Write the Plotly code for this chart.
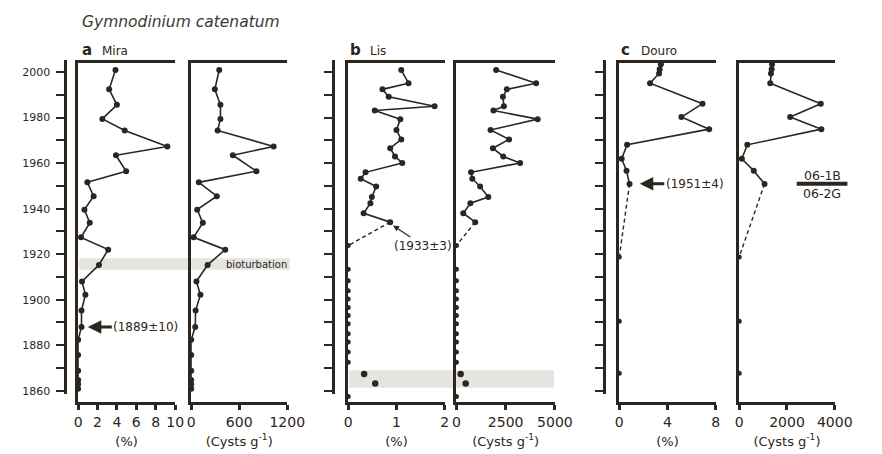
import plotly.graph_objects as go

W, H = 882, 454
INK = "#2b2620"
BAND = "#e6e4e0"
FONT = "DejaVu Sans"

# ---------------- data ----------------
# a  Mira
mira_years = [2001, 1992.5, 1985.7, 1979.5, 1974.4, 1967.4, 1963.5, 1956.5, 1951.6, 1945.5,
              1939.6, 1933.8, 1927.4, 1922, 1915.3, 1908, 1902.2, 1895.2, 1888, 1882.4,
              1875.7, 1868.7, 1864.7, 1862.8, 1860.8]
mira_pct = [3.85, 3.2, 4.0, 2.5, 4.8, 9.2, 3.9, 4.95, 0.95, 1.6,
            0.65, 1.2, 0.3, 3.1, 2.15, 0.4, 0.75, 0.35, 0.35, 0,
            0, 0, 0, 0, 0]
mira_cysts = [350, 295, 365, 365, 330, 1030, 520, 815, 95, 320,
              75, 145, 30, 425, 205, 65, 115, 55, 50, 0,
              0, 0, 0, 0, 0]

# b  Lis
lis_years = [2001, 1995.2, 1992.5, 1989.2, 1985.1, 1983.2, 1979.4, 1974.6, 1970.5, 1966.6,
             1963, 1960.1, 1956, 1953.2, 1949.8, 1945.1, 1942.4, 1938, 1934.1]
lis_pct = [1.10, 1.25, 0.71, 0.84, 1.79, 0.55, 1.08, 1.0, 1.10, 0.87,
           0.97, 1.12, 0.36, 0.26, 0.58, 0.49, 0.46, 0.32, 0.87]
lis_cysts = [2015, 4045, 2560, 2360, 2410, 1880, 4125, 1733, 2673, 1850,
             2376, 3233, 743, 807, 1203, 1618, 708, 347, 955]
lis_zero_years = [1923.8, 1913.4, 1908.3, 1903.9, 1900.3, 1896.6, 1893, 1889.4, 1885,
                  1881.4, 1877, 1872.5, 1857.4]
lis_zero_vals = [0] * len(lis_zero_years)
lis_band_years = [1867.3, 1863.1]
lis_band_pct = [0.33, 0.56]
lis_band_cysts = [215, 470]

# c  Douro
douro_years = [2003.5, 2001.3, 1999.5, 1995.2, 1986.2, 1980.3, 1975, 1968.1, 1962, 1956.7, 1950.9]
douro_pct = [3.45, 3.35, 3.3, 2.55, 6.9, 5.15, 7.45, 0.65, 0.2, 0.6, 0.85]
douro_cysts = [1375, 1360, 1330, 1300, 3415, 2135, 3440, 340, 110, 610, 1060]
douro_zero_years = [1918.8, 1890.5, 1867.6]
douro_zero_vals = [0, 0, 0]

# axes / labels
year_major = list(range(1860, 2001, 20))
year_minor = list(range(1870, 2000, 20))
pct_ticks_mira = [0, 2, 4, 6, 8, 10]
cyst_ticks_mira = [0, 600, 1200]
pct_ticks_lis = [0, 1, 2]
cyst_ticks_lis = [0, 2500, 5000]
pct_ticks_douro = [0, 4, 8]
cyst_ticks_douro = [0, 2000, 4000]
PCT_TITLE = "(%)"
CYST_TITLE = "(Cysts g<sup>-1</sup>)"

# ---------------- helpers ----------------
def px(x):
    return x / W

def py(y):
    return 1 - y / H

YDOM_PANEL = [py(406), py(64)]
YR_PANEL = [1854.8, 2003.9]
YDOM_TICK = [py(397), py(61)]
YR_TICK = [1858.8, 2005.1]

fig = go.Figure()

def line_trace(x, y, xa, ya, dash="solid", mode="lines+markers", msize=6, width=1.6):
    fig.add_trace(go.Scatter(
        x=x, y=y, xaxis=xa, yaxis=ya, mode=mode, cliponaxis=False,
        line=dict(color=INK, width=width, dash=dash),
        marker=dict(color=INK, size=msize),
        hoverinfo="skip", showlegend=False))

# Mira
line_trace(mira_pct, mira_years, "x", "y")
line_trace(mira_cysts, mira_years, "x2", "y2")

# Lis
for vals, zero_vals, band_vals, xa, ya in [
        (lis_pct, lis_zero_vals, lis_band_pct, "x3", "y3"),
        (lis_cysts, lis_zero_vals, lis_band_cysts, "x4", "y4")]:
    line_trace(vals, lis_years, xa, ya)
    line_trace([vals[-1], zero_vals[0]], [lis_years[-1], lis_zero_years[0]], xa, ya,
               dash="4px,3px", mode="lines", width=1.4)
    line_trace(zero_vals, lis_zero_years, xa, ya, mode="markers", msize=5)
    line_trace(band_vals, lis_band_years, xa, ya, mode="markers", msize=6.5)

# Douro
for vals, xa, ya in [(douro_pct, "x5", "y5"), (douro_cysts, "x6", "y6")]:
    line_trace(vals, douro_years, xa, ya)
    line_trace([vals[-1], douro_zero_vals[0]], [douro_years[-1], douro_zero_years[0]], xa, ya,
               dash="4px,3px", mode="lines", width=1.4)
    line_trace(douro_zero_vals, douro_zero_years, xa, ya, mode="markers", msize=5)

# invisible traces to register the year-axes
for xa, ya in [("x", "y7"), ("x3", "y8"), ("x5", "y9")]:
    fig.add_trace(go.Scatter(x=[None], y=[None], xaxis=xa, yaxis=ya, mode="markers",
                             showlegend=False, hoverinfo="skip"))

panels = [
    ("", (76, 175.5), [0, 10], pct_ticks_mira, PCT_TITLE),
    ("2", (192, 290.5), [0, 1200], cyst_ticks_mira, CYST_TITLE),
    ("3", (353, 452), [0, 2], pct_ticks_lis, PCT_TITLE),
    ("4", (464, 565), [0, 5000], cyst_ticks_lis, CYST_TITLE),
    ("5", (631, 730), [0, 8], pct_ticks_douro, PCT_TITLE),
    ("6", (754, 852), [0, 4000], cyst_ticks_douro, CYST_TITLE),
]

layout = dict(
    width=W, height=H, margin=dict(l=0, r=0, t=0, b=0),
    paper_bgcolor="white", plot_bgcolor="rgba(0,0,0,0)",
    font=dict(family=FONT, color=INK),
    showlegend=False,
)

for sfx, (a, b), rng, ticks, title in panels:
    layout["xaxis" + sfx] = dict(
        domain=[px(a), px(b)], range=rng, anchor="y" + sfx,
        showline=True, linewidth=3, linecolor=INK, mirror=True,
        ticks="outside", ticklen=5, tickwidth=2.5, tickcolor=INK,
        tickvals=ticks, ticktext=[str(t) for t in ticks],
        tickfont=dict(size=14, family=FONT, color=INK),
        showgrid=False, zeroline=False,
        title=dict(text=title, font=dict(size=13, family=FONT, color=INK), standoff=8),
    )
    layout["yaxis" + sfx] = dict(
        domain=YDOM_PANEL, range=YR_PANEL, anchor="x" + sfx,
        showline=True, linewidth=3, linecolor=INK,
        tickmode="array", tickvals=[], ticks="", showticklabels=False,
        showgrid=False, zeroline=False,
    )

for sfx, pos, labels in [("7", 63, True), ("8", 337, False), ("9", 615, False)]:
    layout["yaxis" + sfx] = dict(
        domain=YDOM_TICK, range=YR_TICK, anchor="free", position=px(pos), side="left",
        showline=True, linewidth=3, linecolor=INK,
        ticks="outside", ticklen=8, tickwidth=2, tickcolor=INK,
        tickvals=year_major, ticktext=[str(y) for y in year_major], showticklabels=labels,
        ticklabelstandoff=4,
        minor=dict(tickvals=year_minor, ticks="outside", ticklen=8, tickwidth=2,
                   tickcolor=INK, showgrid=False),
        tickfont=dict(size=11, family=FONT, color=INK),
        showgrid=False, zeroline=False,
    )

fig.update_layout(**layout)

# bioturbation / event bands
fig.add_shape(type="rect", xref="paper", yref="y", x0=px(77), x1=px(293), y0=1913.2, y1=1918.2,
              fillcolor=BAND, line=dict(width=0), layer="below")
fig.add_shape(type="rect", xref="paper", yref="y", x0=px(354), x1=px(564), y0=1861.3, y1=1869,
              fillcolor=BAND, line=dict(width=0), layer="below")
# core separator line (06-1B / 06-2G)
fig.add_shape(type="line", xref="paper", yref="y", x0=px(813), x1=px(865), y0=1951, y1=1951,
              line=dict(color=INK, width=4))

ann = []
def text(x, y, s, size, xanchor="left", xref="paper", yref="paper", bold=False, italic=False, color=INK):
    if bold:
        s = "<b>" + s + "</b>"
    if italic:
        s = "<i>" + s + "</i>"
    ann.append(dict(x=x, y=y, xref=xref, yref=yref, text=s, showarrow=False,
                    xanchor=xanchor, yanchor="middle",
                    font=dict(size=size, family=FONT, color=color)))

text(px(78), py(21.7), "Gymnodinium catenatum", 15.5, italic=True, color="#3c3833")
text(px(78), py(50), "a", 15, bold=True)
text(px(98), py(51), "Mira", 12)
text(px(353), py(50), "b", 15, bold=True)
text(px(373), py(51), "Lis", 12)
text(px(631), py(50), "c", 15, bold=True)
text(px(651), py(51), "Douro", 12)
text(px(292), 1915.6, "bioturbation", 10, xanchor="right", yref="y")
text(px(839), py(176.7), "06-1B", 12.5, xanchor="center")
text(px(839), py(195.7), "06-2G", 12.5, xanchor="center")

# dating arrows
ann.append(dict(x=1.0, y=1888, xref="x", yref="y", text="(1889±10)", showarrow=True,
                ax=58, ay=0, arrowhead=2, arrowsize=0.9, arrowwidth=3, arrowcolor=INK,
                font=dict(size=12, family=FONT, color=INK)))
ann.append(dict(x=0.93, y=1932.6, xref="x3", yref="y3", text="(1933±3)", showarrow=True,
                ax=30, ay=20, arrowhead=2, arrowsize=1, arrowwidth=1.2, arrowcolor=INK,
                font=dict(size=12, family=FONT, color=INK)))
ann.append(dict(x=1.7, y=1951, xref="x5", yref="y5", text="(1951±4)", showarrow=True,
                ax=55, ay=0, arrowhead=2, arrowsize=0.9, arrowwidth=3, arrowcolor=INK,
                font=dict(size=12, family=FONT, color=INK)))

fig.update_layout(annotations=ann)
fig.write_html("out.html")
